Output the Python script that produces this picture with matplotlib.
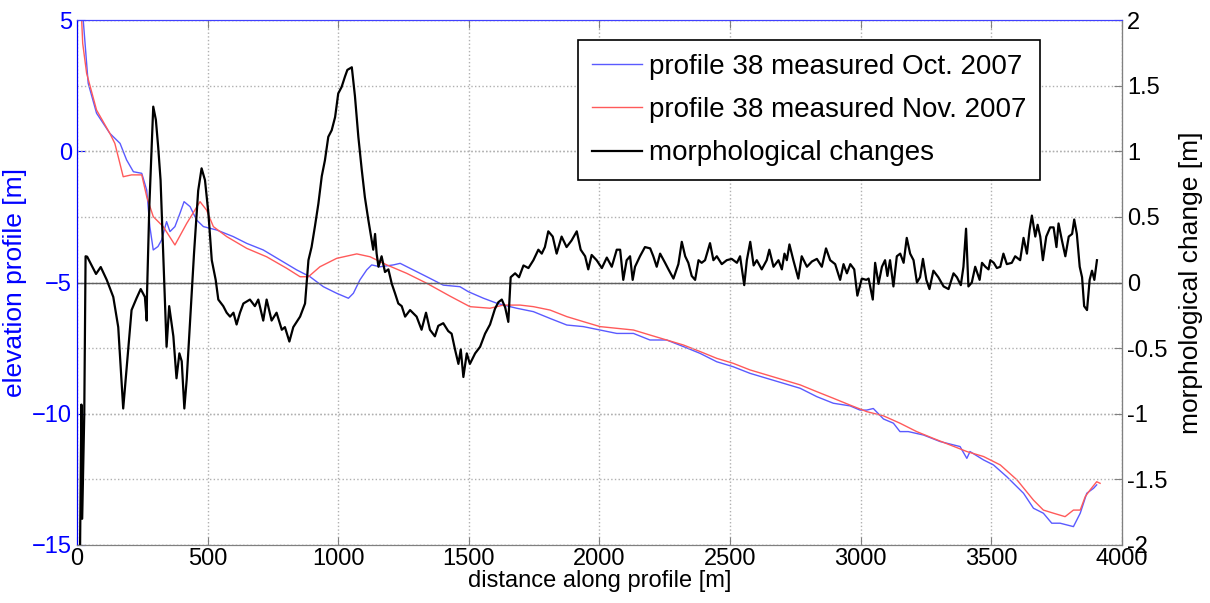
import matplotlib.pyplot as plt
import numpy as np

plt.rcParams['font.family'] = ['Liberation Sans', 'DejaVu Sans']

# profile 38, Oct. 2007 (elevation, left axis)
x_oct = [24, 43, 75, 126, 165, 190, 216, 248, 267, 279, 292, 310, 324, 343, 356, 375, 394, 410,
         433, 458, 484, 535, 598, 650, 713, 777, 841, 892, 943, 994, 1039, 1058, 1083, 1109, 1128,
         1160, 1211, 1237, 1275, 1339, 1402, 1466, 1498, 1556, 1607, 1658, 1683, 1747, 1811, 1875,
         1938, 2002, 2066, 2130, 2193, 2257, 2321, 2385, 2449, 2512, 2576, 2640, 2704, 2768, 2832,
         2895, 2959, 2997, 3023, 3048, 3087, 3125, 3150, 3182, 3240, 3304, 3380, 3406, 3418, 3470,
         3508, 3559, 3623, 3661, 3699, 3731, 3763, 3814, 3840, 3865, 3891, 3903]
z_oct = [5.0, 2.59, 1.45, 0.68, 0.30, -0.33, -0.78, -0.84, -1.48, -2.87, -3.76, -3.63, -3.38, -2.68,
         -3.06, -2.87, -2.37, -1.92, -2.11, -2.62, -2.87, -3.0, -3.25, -3.51, -3.76, -4.14, -4.52,
         -4.78, -5.16, -5.41, -5.60, -5.41, -4.90, -4.52, -4.33, -4.40, -4.33, -4.27, -4.46, -4.78,
         -5.10, -5.16, -5.35, -5.60, -5.79, -5.92, -5.98, -6.11, -6.37, -6.62, -6.68, -6.81, -6.94,
         -6.94, -7.19, -7.19, -7.44, -7.70, -8.02, -8.21, -8.46, -8.65, -8.84, -9.03, -9.35, -9.60,
         -9.70, -9.86, -9.86, -9.80, -10.20, -10.36, -10.68, -10.68, -10.81, -11.06, -11.25, -11.70,
         -11.44, -11.76, -11.95, -12.40, -13.03, -13.60, -13.79, -14.17, -14.17, -14.30, -13.79,
         -13.03, -12.84, -12.71]

# profile 38, Nov. 2007 (elevation, left axis)
x_nov = [18, 22, 37, 75, 126, 145, 158, 177, 209, 248, 267, 292, 330, 375, 420, 471, 496, 522, 573,
         650, 726, 803, 854, 886, 930, 994, 1071, 1122, 1186, 1262, 1339, 1428, 1504, 1581, 1632,
         1696, 1747, 1811, 1875, 1938, 2002, 2130, 2193, 2257, 2321, 2385, 2449, 2512, 2576, 2640,
         2704, 2768, 2832, 2895, 2959, 3023, 3087, 3150, 3214, 3278, 3342, 3406, 3470, 3534, 3598,
         3661, 3699, 3738, 3782, 3814, 3840, 3859, 3878, 3903, 3916]
z_nov = [5.0, 4.11, 2.97, 1.57, 0.68, 0.30, -0.21, -0.97, -0.90, -0.90, -1.73, -2.49, -2.87, -3.57,
         -2.75, -1.92, -2.24, -2.87, -3.25, -3.70, -4.02, -4.46, -4.78, -4.78, -4.40, -4.08, -3.91,
         -4.02, -4.33, -4.65, -5.03, -5.52, -5.92, -5.98, -5.86, -5.86, -5.92, -6.05, -6.30, -6.49,
         -6.68, -6.81, -7.0, -7.19, -7.38, -7.63, -7.89, -8.08, -8.33, -8.52, -8.71, -8.90, -9.16,
         -9.41, -9.67, -9.92, -10.08, -10.36, -10.68, -10.94, -11.19, -11.44, -11.63, -11.95, -12.52,
         -13.29, -13.67, -13.79, -13.92, -13.67, -13.67, -13.16, -12.90, -12.59, -12.65]

# morphological change (right axis)
x_chg = [12, 17, 20, 28, 33, 39, 73, 91, 114, 139, 158, 177, 196, 209, 228, 244, 260, 267, 268, 277,
         292, 302, 311, 320, 330, 343, 353, 369, 381, 392, 401, 411, 420, 433, 448, 464, 477, 490,
         503, 516, 531, 541, 560, 573, 586, 599, 611, 624, 637, 662, 681, 694, 713, 726, 745, 764,
         784, 796, 813, 828, 854, 873, 886, 898, 911, 924, 937, 949, 962, 975, 988, 1000, 1013, 1026,
         1035, 1052, 1064, 1077, 1090, 1102, 1115, 1128, 1134, 1141, 1147, 1154, 1166, 1179, 1192,
         1205, 1217, 1230, 1243, 1256, 1275, 1300, 1319, 1336, 1351, 1370, 1383, 1402, 1421, 1434,
         1447, 1460, 1469, 1479, 1492, 1504, 1524, 1543, 1562, 1581, 1600, 1613, 1626, 1639, 1651,
         1660, 1677, 1692, 1709, 1728, 1747, 1766, 1779, 1791, 1804, 1821, 1836, 1855, 1874, 1893,
         1913, 1928, 1945, 1957, 1970, 1989, 2009, 2028, 2047, 2066, 2079, 2091, 2104, 2117, 2127,
         2136, 2155, 2174, 2194, 2206, 2219, 2232, 2251, 2264, 2283, 2302, 2315, 2328, 2340, 2353,
         2366, 2379, 2391, 2404, 2423, 2436, 2449, 2468, 2487, 2506, 2526, 2538, 2554, 2564, 2577,
         2590, 2602, 2621, 2640, 2650, 2666, 2685, 2698, 2708, 2717, 2727, 2742, 2761, 2774, 2794,
         2813, 2832, 2851, 2867, 2883, 2902, 2921, 2934, 2947, 2960, 2975, 2987, 3004, 3021, 3030,
         3046, 3055, 3068, 3081, 3093, 3102, 3112, 3125, 3138, 3151, 3164, 3176, 3189, 3202, 3215,
         3227, 3238, 3251, 3263, 3278, 3297, 3317, 3336, 3355, 3368, 3383, 3393, 3403, 3412, 3425,
         3438, 3455, 3464, 3477, 3489, 3496, 3509, 3521, 3534, 3546, 3559, 3578, 3591, 3610, 3623,
         3636, 3646, 3655, 3668, 3677, 3687, 3697, 3710, 3725, 3738, 3749, 3757, 3770, 3783, 3796,
         3809, 3817, 3827, 3838, 3847, 3855, 3866, 3876, 3885, 3894, 3904]
dz_chg = [-2.0, -0.93, -1.8, -1.0, 0.2, 0.197, 0.065, 0.118, 0.02, -0.11, -0.34, -0.96, -0.51, -0.21,
          -0.12, -0.05, -0.11, -0.29, -0.10, 0.58, 1.34, 1.24, 1.03, 0.78, 0.22, -0.49, -0.18, -0.41,
          -0.73, -0.54, -0.60, -0.96, -0.74, -0.29, 0.22, 0.70, 0.87, 0.78, 0.53, 0.17, 0.02, -0.13,
          -0.18, -0.23, -0.26, -0.23, -0.32, -0.23, -0.16, -0.13, -0.18, -0.13, -0.29, -0.13, -0.29,
          -0.23, -0.36, -0.34, -0.45, -0.34, -0.26, -0.16, 0.17, 0.27, 0.43, 0.60, 0.81, 0.93, 1.11,
          1.16, 1.26, 1.44, 1.49, 1.57, 1.62, 1.64, 1.42, 1.11, 0.86, 0.65, 0.48, 0.32, 0.25, 0.37,
          0.22, 0.12, 0.20, 0.08, 0.10, -0.01, -0.08, -0.16, -0.18, -0.26, -0.21, -0.26, -0.36, -0.23,
          -0.36, -0.41, -0.33, -0.31, -0.37, -0.39, -0.51, -0.62, -0.51, -0.72, -0.54, -0.62, -0.54,
          -0.49, -0.39, -0.32, -0.20, -0.15, -0.13, -0.19, -0.30, 0.04, 0.07, 0.04, 0.13, 0.11, 0.17,
          0.25, 0.22, 0.27, 0.39, 0.35, 0.22, 0.35, 0.27, 0.32, 0.39, 0.25, 0.20, 0.10, 0.21, 0.17,
          0.11, 0.19, 0.12, 0.25, 0.25, 0.02, 0.17, 0.20, 0.02, 0.12, 0.20, 0.27, 0.26, 0.20, 0.12,
          0.22, 0.15, 0.10, 0.03, 0.14, 0.31, 0.20, 0.15, 0.05, 0.02, 0.17, 0.15, 0.17, 0.30, 0.17,
          0.20, 0.14, 0.17, 0.18, 0.15, 0.20, -0.02, 0.17, 0.31, 0.13, 0.17, 0.10, 0.17, 0.25, 0.12,
          0.17, 0.10, 0.22, 0.17, 0.29, 0.17, 0.03, 0.20, 0.12, 0.16, 0.18, 0.12, 0.26, 0.17, 0.14,
          0.02, 0.14, 0.07, 0.14, 0.10, -0.10, 0.03, 0.02, 0.03, -0.13, 0.15, -0.01, 0.12, 0.17, 0.05,
          0.17, -0.03, 0.20, 0.22, 0.15, 0.34, 0.22, 0.17, 0.00, 0.04, 0.18, 0.02, -0.05, 0.09, 0.04,
          -0.03, -0.05, 0.07, 0.04, -0.02, 0.12, 0.41, -0.03, 0.00, 0.12, 0.02, 0.15, 0.12, 0.10, 0.17,
          0.15, 0.11, 0.12, 0.22, 0.14, 0.15, 0.20, 0.17, 0.34, 0.22, 0.40, 0.51, 0.35, 0.44, 0.35,
          0.17, 0.35, 0.42, 0.42, 0.27, 0.45, 0.32, 0.20, 0.35, 0.37, 0.48, 0.37, 0.12, 0.04, -0.18,
          -0.21, 0.02, 0.09, 0.02, 0.17]

x_ticks = [0, 500, 1000, 1500, 2000, 2500, 3000, 3500, 4000]
z_ticks = [-15, -10, -5, 0, 5]
dz_ticks = [-2, -1.5, -1, -0.5, 0, 0.5, 1, 1.5, 2]
dz_labels = ['-2', '-1.5', '-1', '-0.5', '0', '0.5', '1', '1.5', '2']

fig = plt.figure(figsize=(12.1, 6.03), dpi=100)
ax = fig.add_axes([0.0636, 0.0962, 0.8637, 0.8706])
ax2 = ax.twinx()

grid_kw = dict(color='#b0b0b0', linestyle=':', linewidth=1)
l1, = ax.plot(x_oct, z_oct, color='#5a5aff', lw=1, label='profile 38 measured Oct. 2007')
l2, = ax.plot(x_nov, z_nov, color='#ff5a5a', lw=1, label='profile 38 measured Nov. 2007')
ax.set_xlim(0, 4000)
ax.set_ylim(-15, 5)
ax.set_xticks(x_ticks)
ax.set_yticks(z_ticks)
ax.grid(True, **grid_kw)
ax.tick_params(axis='x', direction='in', length=6, labelsize=17, top=True, pad=2,
               color='#808080')
ax.tick_params(axis='y', direction='in', length=6, colors='blue', labelsize=17)
ax.set_xlabel('distance along profile [m]', fontsize=17, labelpad=0)
ax.set_ylabel('elevation profile [m]', fontsize=19, color='blue', labelpad=4)
ax.spines['left'].set_color('blue')
ax.spines['top'].set_color('#4040ff')
ax.spines['bottom'].set_color('#808080')

ax2.axhline(0, color='#606060', lw=1)
l3, = ax2.plot(x_chg, dz_chg, color='black', lw=1.6, label='morphological changes')
ax2.set_ylim(-2, 2)
ax2.set_yticks(dz_ticks)
ax2.set_yticklabels(dz_labels)
ax2.yaxis.grid(True, **grid_kw)
ax2.tick_params(axis='y', direction='in', length=6, color='#808080', labelsize=17)
ax2.set_ylabel('morphological change [m]', fontsize=19, labelpad=8)
ax2.spines['right'].set_color('#808080')
ax2.spines['left'].set_color('blue')
ax2.spines['top'].set_color('#4040ff')
ax2.spines['bottom'].set_color('#808080')

leg = ax2.legend(handles=[l1, l2, l3], loc='upper right', bbox_to_anchor=(0.9215, 0.962),
                 borderaxespad=0, fontsize=20, frameon=True, fancybox=False, framealpha=1,
                 edgecolor='black', handlelength=1.8, handletextpad=0.25, borderpad=0.5,
                 labelspacing=0.62)
leg.get_frame().set_linewidth(1.2)

fig.savefig('out.png', dpi=100)
